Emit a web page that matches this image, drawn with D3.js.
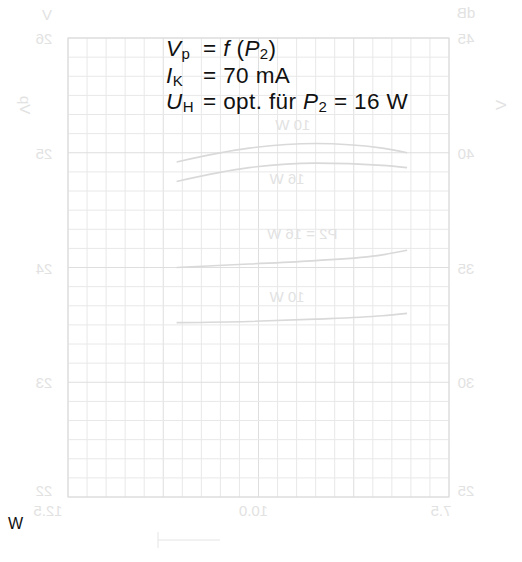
<!DOCTYPE html>
<html>
<head>
<meta charset="utf-8">
<title>Vp = f(P2)</title>
<style>
  html, body { margin: 0; padding: 0; background: #fff; }
  svg { display: block; }
  text { font-family: "Liberation Sans", Arial, Helvetica, sans-serif; }
  .grid line { stroke: #e8e8e8; stroke-width: 1; }
  .grid line.major { stroke: #dedede; }
  .frame { fill: none; stroke: #dcdcdc; stroke-width: 1; }
  .ghost { fill: #e2e2e2; font-size: 15px; }
  .curve { fill: none; stroke: #d9d9d9; stroke-width: 1.6; }
  .note { fill: #111; font-size: 22.5px; letter-spacing: 0.4px; }
</style>
</head>
<body>
<svg width="522" height="562"></svg>
<script src="https://cdn.jsdelivr.net/npm/d3@7/dist/d3.min.js"></script>
<script>
// P2 in W along the bottom, Vp in dB on the left, V on the right
var pValues = [5.7, 9.5, 13, 16.5, 17.8];
var curveA = [24.92, 25.04, 25.08, 25.04, 25.00];
var curveB = [24.75, 24.87, 24.91, 24.89, 24.87];
var curveC = [24.00, 24.03, 24.06, 24.11, 24.15];
var curveD = [23.52, 23.53, 23.55, 23.58, 23.60];

var leftTicks = [22, 23, 24, 25, 26];
var rightTicks = [25, 30, 35, 40, 45];
var bottomTicks = [0, 10, 20];
var bottomLabels = ["12.5", "10.0", "7.5"];

var curveLabels = [
    {p: 11.8, v: 25.2, t: "10 W"},
    {p: 11.5, v: 24.73, t: "16 W"},
    {p: 12.3, v: 24.25, t: "P2 = 16 W"},
    {p: 11.5, v: 23.7, t: "10 W"}
];

var svg = d3.select("svg");
var x = d3.scaleLinear().domain([0, 20]).range([68, 449]);
var y = d3.scaleLinear().domain([22, 26]).range([497, 38]);
var yRight = d3.scaleLinear().domain([25, 45]).range([497, 38]);

// grid (squares of 1 W by 1/6 dB)
var grid = svg.append("g").attr("class", "grid");
grid.selectAll("line.v")
    .data(d3.range(0, 21))
    .enter().append("line")
    .attr("class", function(d) { return d % 5 == 0 ? "major" : "v"; })
    .attr("x1", function(d) { return x(d); })
    .attr("x2", function(d) { return x(d); })
    .attr("y1", y(26)).attr("y2", y(22));
grid.selectAll("line.h")
    .data(d3.range(0, 25))
    .enter().append("line")
    .attr("class", function(d) { return d % 6 == 0 ? "major" : "h"; })
    .attr("y1", function(d) { return y(22 + d / 6); })
    .attr("y2", function(d) { return y(22 + d / 6); })
    .attr("x1", x(0)).attr("x2", x(20));
svg.append("rect").attr("class", "frame")
    .attr("x", x(0)).attr("y", y(26))
    .attr("width", x(20) - x(0)).attr("height", y(22) - y(26));

// curves
var line = d3.line()
    .x(function(d) { return x(d[0]); })
    .y(function(d) { return y(d[1]); })
    .curve(d3.curveMonotoneX);
[curveA, curveB, curveC, curveD].forEach(function(c) {
    svg.append("path").attr("class", "curve")
        .attr("d", line(d3.zip(pValues, c)));
});

// the print from the back of the page shows through mirrored
function ghost(px, py, t, rot) {
    svg.append("text").attr("class", "ghost")
        .attr("text-anchor", "middle")
        .attr("transform", "translate(" + px + "," + py + ")" + (rot ? " rotate(" + rot + ")" : "") + " scale(-1,1)")
        .text(t);
}
leftTicks.forEach(function(d) { ghost(44, y(d) + (d == 22 ? -1 : 6), d); });
rightTicks.forEach(function(d) { ghost(466, yRight(d) + (d == 25 ? -1 : 6), d); });
bottomTicks.forEach(function(d, i) { ghost(x(d) + (i == 0 ? -20 : (i == 2 ? -8 : -5)), 516, bottomLabels[i]); });
curveLabels.forEach(function(d) { ghost(x(d.p), y(d.v), d.t); });
ghost(47, 20, "V");
ghost(466, 18, "dB");
ghost(20, 105, "Vp", 90);
ghost(506, 105, "V", -90);
svg.append("line").attr("x1", 158).attr("x2", 220).attr("y1", 540).attr("y2", 540)
    .attr("stroke", "#e4e4e4");
svg.append("line").attr("x1", 158).attr("x2", 158).attr("y1", 532).attr("y2", 548)
    .attr("stroke", "#e4e4e4");

// parameter block
var note = svg.append("g").attr("class", "note");
function row(yy, sym, sub, parts) {
    var t = note.append("text").attr("x", 166).attr("y", yy);
    t.append("tspan").attr("font-style", "italic").text(sym);
    t.append("tspan").attr("font-size", "15px").attr("dy", 3).text(sub);
    var r = note.append("text").attr("x", 203).attr("y", yy);
    parts.forEach(function(p) {
        var s = r.append("tspan").text(p.t);
        if (p.i) s.attr("font-style", "italic");
        if (p.sub) s.attr("font-size", "15px").attr("dy", 3);
        if (p.up) s.attr("dy", -3);
    });
}
row(56, "V", "p", [{t: "= "}, {t: "f", i: 1}, {t: " ("}, {t: "P", i: 1}, {t: "2", sub: 1}, {t: ")", up: 1}]);
row(82.5, "I", "K", [{t: "= 70 mA"}]);
row(109, "U", "H", [{t: "= opt. für "}, {t: "P", i: 1}, {t: "2", sub: 1}, {t: " = 16 W", up: 1}]);

svg.append("text").attr("x", 8).attr("y", 529)
    .attr("font-size", "16px").attr("fill", "#111").text("W");
</script>
</body>
</html>
